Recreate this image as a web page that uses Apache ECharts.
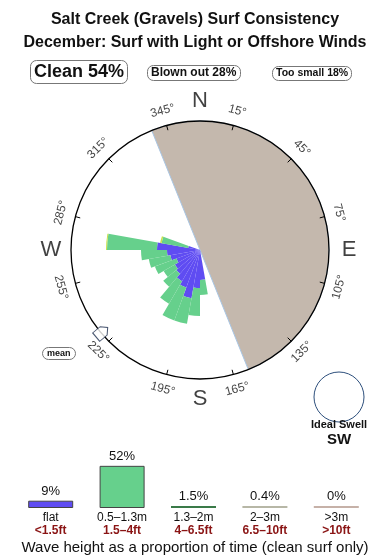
<!DOCTYPE html>
<html><head><meta charset="utf-8">
<script src="https://cdn.jsdelivr.net/npm/echarts@6/dist/echarts.min.js"></script>
<style>html,body{margin:0;padding:0;background:#fff}#c{width:390px;height:560px}</style>
</head><body><div id="c"></div>
<script>
// ---- data ----
const titleLines = ['Salt Creek (Gravels) Surf Consistency', 'December: Surf with Light or Offshore Winds'];
const summary = [['Clean', 54], ['Blown out', 28], ['Too small', 18]];
// rose: 36 direction bins of 10 degrees (0-10, 10-20, ...), radial units (axis max = roseMax)
const roseMax = 129;
const roseFlat  = [0,0,0,0,0,0,0,0,0,0,0,0,0,0,0,0,0,30,38,49,40,36,31,29,25,30,33,43,12,0,0,0,0,0,0,0];
const roseSmall = [0,0,0,0,0,0,0,0,0,0,0,0,0,0,0,0,0,15,28,26,35,26,17,13,23,22,26,50,27,0,0,0,0,0,0,0];
const roseMid   = [0,0,0,0,0,0,0,0,0,0,0,0,0,0,0,0,0,0,0,0,0,0,0,0,0,0,0,1,1.5,0,0,0,0,0,0,0];
const shadeFrom = 338, shadeTo = 158;      // bearing range of shaded (onshore) half
const meanDir = 230;
const degTicks = [15,45,75,105,135,165,195,225,255,285,315,345];
const compass = [[0,'N'],[90,'E'],[180,'S'],[270,'W']];
const idealSwell = 'SW';
// wave height histogram
const heightCats = ['flat','0.5–1.3m','1.3–2m','2–3m','>3m'];
const heightFt   = ['<1.5ft','1.5–4ft','4–6.5ft','6.5–10ft','>10ft'];
const heightPct  = [9, 52, 1.5, 0.4, 0];
const heightLbl  = ['9%','52%','1.5%','0.4%','0%'];
const heightColors = ['#5f4cf2','#66d08c','#3a7a48','#b7b7a6','#c6b1a8'];

const FONT = '"Liberation Sans", Arial, Helvetica, sans-serif';
const CX = 200, CY = 250, R = 129;
const bins = roseFlat.map((_, i) => String(i * 10));
const shadeSpan = (shadeTo - shadeFrom + 360) % 360;

function rot(b) { return (b > 90 && b < 270) ? 180 - b : -b; }

const chart = echarts.init(document.getElementById('c'), null, {renderer: 'canvas'});
const boxStyle = {borderColor: '#777', borderWidth: 1, borderRadius: 6};
chart.setOption({
  backgroundColor: '#fff',
  animation: false,
  title: [
    {text: titleLines.join('\n'), left: 'center', top: 3,
     textStyle: {fontFamily: FONT, fontSize: 16, fontWeight: 'bold', color: '#111', lineHeight: 23}},
    Object.assign({text: summary[0][0] + ' ' + summary[0][1] + '%', left: 30, top: 60, padding: [3, 4],
     textStyle: {fontFamily: FONT, fontSize: 18, fontWeight: 'bold', color: '#111'}}, boxStyle),
    Object.assign({text: summary[1][0] + ' ' + summary[1][1] + '%', left: 147, top: 65, padding: [2, 4],
     textStyle: {fontFamily: FONT, fontSize: 12, fontWeight: 'bold', color: '#111'}}, boxStyle),
    Object.assign({text: summary[2][0] + ' ' + summary[2][1] + '%', left: 272, top: 66, padding: [2, 4],
     textStyle: {fontFamily: FONT, fontSize: 10.5, fontWeight: 'bold', color: '#111'}}, boxStyle),
    Object.assign({text: 'mean', left: 42, top: 347, padding: [2, 5],
     textStyle: {fontFamily: FONT, fontSize: 9, fontWeight: 'bold', color: '#111'}}, boxStyle),
    {text: 'Wave height as a proportion of time (clean surf only)', left: 'center', top: 535,
     textStyle: {fontFamily: FONT, fontSize: 15, fontWeight: 'normal', color: '#111'}}
  ],
  polar: [
    {center: [CX, CY], radius: R},
    {center: [CX, CY], radius: R}
  ],
  angleAxis: [
    {polarIndex: 0, type: 'category', data: bins, startAngle: 90, clockwise: true, show: false},
    {polarIndex: 1, type: 'value', min: -15, max: 345, interval: 30, startAngle: 105, clockwise: true, z: 10,
     axisLine: {show: true, lineStyle: {color: '#000', width: 1.3}},
     axisTick: {show: true, inside: true, length: 5, lineStyle: {color: '#000', width: 1}},
     axisLabel: {show: false}, splitLine: {show: false}}
  ],
  radiusAxis: [
    {polarIndex: 0, type: 'value', min: 0, max: roseMax, show: false},
    {polarIndex: 1, type: 'value', min: 0, max: R, show: false}
  ],
  grid: {left: 15, right: 18, top: 448, height: 60},
  xAxis: {type: 'category', data: heightCats, axisLine: {show: false}, axisTick: {show: false},
    axisLabel: {interval: 0, margin: 4,
      formatter: (v, i) => '{a|' + v + '}\n{b|' + heightFt[i] + '}',
      rich: {a: {fontFamily: FONT, fontSize: 12, color: '#111', lineHeight: 12},
             b: {fontFamily: FONT, fontSize: 12, color: '#8a1414', lineHeight: 13, fontWeight: 'bold'}}}},
  yAxis: {type: 'value', min: 0, max: 74, show: false},
  graphic: [
    {type: 'circle', shape: {cx: 339, cy: 397, r: 25}, style: {fill: '#fff', stroke: '#2d4f7c', lineWidth: 1}},
    {type: 'text', x: 339, y: 419, style: {text: 'Ideal Swell', fontFamily: FONT, fontSize: 11, fontWeight: 'bold', fill: '#111', align: 'center'}},
    {type: 'text', x: 339, y: 432, style: {text: idealSwell, fontFamily: FONT, fontSize: 15, fontWeight: 'bold', fill: '#111', align: 'center'}}
  ],
  series: [
    {type: 'pie', center: [CX, CY], radius: R, startAngle: 90 - shadeFrom + 360, clockwise: true,
     silent: true, z: 1, label: {show: false}, labelLine: {show: false},
     data: [
       {value: shadeSpan, itemStyle: {color: '#c4b8ad', borderColor: '#a9c6e4', borderWidth: 1}},
       {value: 360 - shadeSpan, itemStyle: {color: 'rgba(0,0,0,0)', borderWidth: 0}}
     ]},
    {type: 'bar', coordinateSystem: 'polar', polarIndex: 0, stack: 'rose', data: roseFlat, z: 3,
     barCategoryGap: '0%', itemStyle: {color: '#5f4cf2'}},
    {type: 'bar', coordinateSystem: 'polar', polarIndex: 0, stack: 'rose', data: roseSmall, z: 3,
     barCategoryGap: '0%', itemStyle: {color: '#66d08c'}},
    {type: 'bar', coordinateSystem: 'polar', polarIndex: 0, stack: 'rose', data: roseMid, z: 3,
     barCategoryGap: '0%', itemStyle: {color: '#c9e04a'}},
    {type: 'scatter', coordinateSystem: 'polar', polarIndex: 1, clip: false, symbolSize: 0, z: 10, silent: true,
     data: degTicks.map(b => ({value: [144, b], label: {rotate: rot(b)}})),
     label: {show: true, position: 'inside', formatter: p => p.value[1] + '°',
       fontFamily: FONT, fontSize: 12, color: '#111'}},
    {type: 'scatter', coordinateSystem: 'polar', polarIndex: 1, clip: false, symbolSize: 0, z: 10, silent: true,
     data: compass.map(c => ({value: [149, c[0]], name: c[1]})),
     label: {show: true, position: 'inside', formatter: p => p.name,
       fontFamily: FONT, fontSize: 22, color: '#111'}},
    {type: 'scatter', coordinateSystem: 'polar', polarIndex: 1, clip: false, z: 11, silent: true,
     symbol: 'path://M5,0 L10,5 L10,14 L0,14 L0,5 Z', symbolSize: [11, 15], symbolRotate: -(meanDir + 180),
     itemStyle: {color: '#fff', borderColor: '#1d2d4d', borderWidth: 1},
     data: [[128, meanDir]]},
    {type: 'bar', data: heightPct.map((v, i) => ({value: v, itemStyle: {color: heightColors[i],
        borderColor: i < 2 ? '#444' : heightColors[i], borderWidth: i < 2 ? 1 : 0}})),
     barWidth: 45, barMinHeight: 2,
     label: {show: true, position: 'top', distance: 3, formatter: p => heightLbl[p.dataIndex],
       fontFamily: FONT, fontSize: 13, color: '#111'}}
  ]
});
</script></body></html>
